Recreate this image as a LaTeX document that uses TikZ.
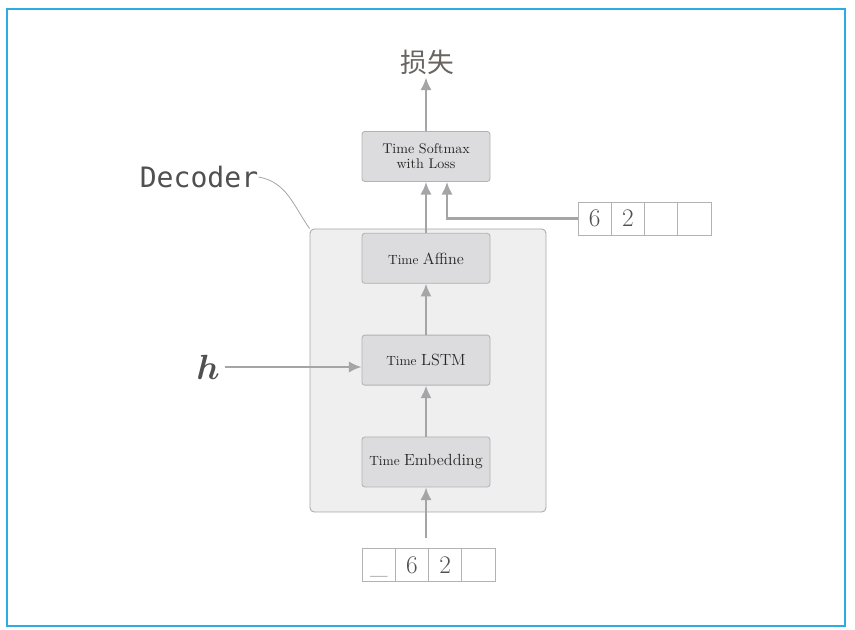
\documentclass[tikz,border=0pt]{standalone}
\usepackage{bm}
\usepackage{amsmath}
\usepackage{xcolor}
\usepackage{fontspec}
\newfontfamily\cjk{Noto Sans CJK SC}
\newfontfamily\decoderfont{DejaVu Sans Mono}
\usetikzlibrary{arrows, arrows.meta, positioning}

\definecolor{framecyan}{RGB}{45,172,225}
\definecolor{boxfill}{RGB}{220,220,222}
\definecolor{boxline}{RGB}{178,178,180}
\definecolor{decfill}{RGB}{239,239,239}
\definecolor{decline}{RGB}{168,168,170}
\definecolor{arrowgray}{RGB}{165,165,167}
\definecolor{txt}{RGB}{40,38,36}
\definecolor{numgray}{RGB}{80,80,80}
\definecolor{lossgray}{RGB}{105,100,96}
\newcommand{\timefont}{\fontsize{9.5}{11}\selectfont}
\newcommand{\namefont}{\fontsize{11.5}{13}\selectfont}

\begin{document}
\begin{tikzpicture}[
  layer/.style={draw=boxline, fill=boxfill, rounded corners=2pt, line width=0.6pt,
    minimum width=3.2cm, minimum height=1.25cm, align=center, text=txt},
  arr/.style={-{Latex[length=9pt,width=8pt]}, draw=arrowgray, line width=1.6pt},
  cell/.style={draw=boxline, line width=0.6pt, minimum width=0.83cm, minimum height=0.825cm,
    inner sep=0pt, outer sep=0pt, text=numgray, font=\fontsize{18}{18}\selectfont,
    text height=11.6pt, text depth=0pt},
  node distance=1.275cm
]
%\draw[step=0.5cm,gray,very thin] (0,0) grid (21,15); %background grid
\useasboundingbox (0,0) rectangle (21.375,15.75);
\draw[framecyan, line width=1.4pt] (0.175,0.1) rectangle (21.125,15.525);

% decoder block
\node[draw=decline, fill=decfill, rounded corners=3pt, line width=0.6pt,
  minimum width=5.9cm, minimum height=7.075cm] (dec) at (10.7,6.4875) {};
\node[layer] (emb) at (10.65,4.2) {\timefont Time \namefont Embedding};
\node[layer, above=of emb] (lstm) {\timefont Time \namefont LSTM};
\node[layer, above=of lstm] (aff) {\timefont Time \namefont Affine};
\node[layer, above=of aff, font=\fontsize{10}{10.5}\selectfont] (soft) {Time Softmax\\with Loss};
\node[text=lossgray, font=\cjk\fontsize{19}{22}\selectfont, inner sep=2pt] (loss) at (10.675,14.2) {损失};

\node[text=numgray, font=\decoderfont\fontsize{20}{24}\selectfont, inner sep=0pt] (dectext) at (4.975,11.325) {Decoder};
\draw[decline, line width=0.6pt] (dectext.east) to[out=-10, in=125] (dec.north west);

\node[text=numgray, font=\fontsize{32}{34}\selectfont] (h) at (5.2,6.575) {$\bm{h}$};

% target sequence
\node[cell] (r1) at (14.87,10.2875) {6};
\node[cell, right=0pt of r1] (r2) {2};
\node[cell, right=0pt of r2] (r3) {};
\node[cell, right=0pt of r3] (r4) {};

% input sequence
\node[cell] (in1) at (9.47,1.625) {\_};
\node[cell, right=0pt of in1] (in2) {6};
\node[cell, right=0pt of in2] (in3) {2};
\node[cell, right=0pt of in3] (in4) {};

\draw[arr, shorten <=0.25cm] (emb.south |- in2.north) -- (emb.south);
\draw[arr] (emb.north) -- (lstm.south);
\draw[arr] (lstm.north) -- (aff.south);
\draw[arr] (aff.north) -- (soft.south);
\draw[arr] (soft.north) -- (soft.north |- loss.south);
\draw[arr] (r1.west) -| ([xshift=0.525cm]soft.south);
\draw[arr] (h.east) -- (h.east -| lstm.west);
\end{tikzpicture}
\end{document}
